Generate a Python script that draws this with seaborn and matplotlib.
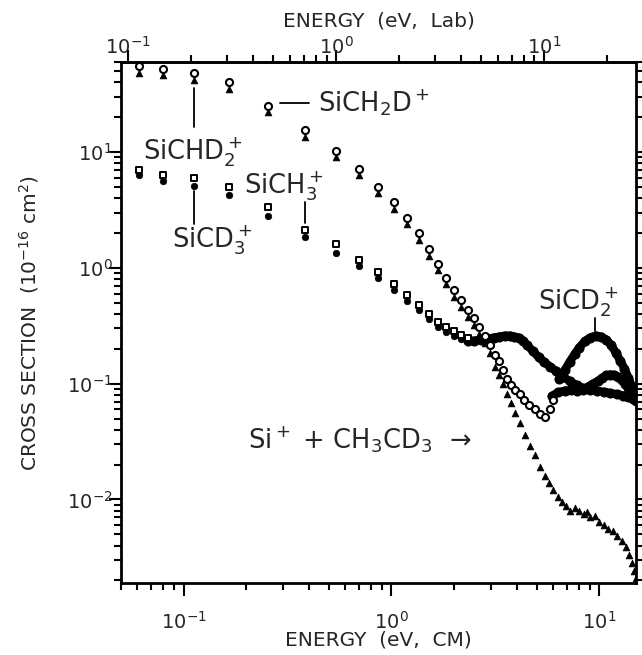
import matplotlib
matplotlib.use("Agg")
import matplotlib.pyplot as plt
import seaborn as sns

# ---------------- data ----------------
LAB_FACTOR = 61.0 / 33.0   # E(Lab) = E(CM) * (m_Si + m_C2H3D3) / m_C2H3D3

# SiCH2D+ (open circles)
sich2d_x = [0.061, 0.080, 0.112, 0.166, 0.255, 0.385, 0.538, 0.697, 0.86, 1.03,
            1.19, 1.35, 1.51, 1.67, 1.83, 2.00, 2.17, 2.34, 2.50, 2.64, 2.82,
            2.98, 3.16, 3.30, 3.45, 3.60, 3.77, 3.94, 4.13, 4.35, 4.6, 4.9,
            5.2, 5.5, 5.8, 6.0]
sich2d_y = [55, 52, 48, 40, 25, 15.5, 10.3, 7.2, 5.0, 3.7,
            2.7, 2.0, 1.45, 1.09, 0.82, 0.64, 0.53, 0.436, 0.367, 0.309, 0.26,
            0.215, 0.177, 0.158, 0.13, 0.11, 0.098, 0.088, 0.081, 0.072, 0.065, 0.06,
            0.055, 0.052, 0.06, 0.072]

# SiCHD2+ (filled triangles)
sichd2_x = [0.061, 0.080, 0.112, 0.166, 0.255, 0.385, 0.538, 0.697, 0.86, 1.03,
            1.19, 1.35, 1.51, 1.67, 1.83, 2.00, 2.17, 2.34, 2.50, 2.64, 2.82,
            2.98, 3.16, 3.30, 3.45, 3.60, 3.77, 3.94, 4.13, 4.4, 4.65, 4.9,
            5.17, 5.5, 5.75, 5.97, 6.3, 6.6, 6.9, 7.2, 7.6, 8.0, 8.4, 8.7, 9.0,
            9.5, 10.0, 10.5, 11.0, 11.6, 12.2, 12.9, 13.4, 13.9, 14.3, 14.7, 15.0]
sichd2_y = [48, 46, 42, 35, 22, 13.6, 9.0, 6.3, 4.4, 3.25,
            2.4, 1.75, 1.27, 0.95, 0.72, 0.56, 0.46, 0.38, 0.32, 0.27, 0.225,
            0.185, 0.14, 0.12, 0.10, 0.082, 0.068, 0.056, 0.046, 0.036, 0.029, 0.024,
            0.019, 0.016, 0.014, 0.012, 0.0105, 0.0095, 0.0088, 0.008, 0.0085, 0.008, 0.0075, 0.0078, 0.007,
            0.0072, 0.0064, 0.006, 0.0056, 0.0053, 0.0048, 0.0044, 0.0039, 0.0033, 0.0028, 0.0024, 0.0021]

# SiCH3+ (open squares) and SiCD3+ (filled circles)
methyl_x = [0.061, 0.080, 0.112, 0.166, 0.255, 0.385, 0.538, 0.697, 0.86, 1.03,
            1.19, 1.35, 1.51, 1.67, 1.83, 2.00, 2.17, 2.34]
sich3_y = [7.0, 6.3, 6.0, 5.0, 3.36, 2.13, 1.6, 1.18, 0.92, 0.73,
           0.58, 0.48, 0.40, 0.34, 0.31, 0.286, 0.265, 0.25]
sicd3_y = [6.4, 5.6, 5.1, 4.3, 2.83, 1.86, 1.35, 1.03, 0.82, 0.64,
           0.52, 0.43, 0.36, 0.31, 0.28, 0.26, 0.245, 0.235]

# dense high-energy band (continuation of the methyl channels)
band_x = [2.34, 2.5, 2.7, 2.9, 3.1, 3.3, 3.5, 3.7, 3.9, 4.1, 4.3, 4.5, 4.8, 5.1,
          5.4, 5.8, 6.2, 6.7, 7.2, 7.8, 8.3, 9.0, 9.7, 10.5, 11.3, 12.2, 13.0,
          13.8, 14.5, 15.0]
band_y = [0.235, 0.235, 0.24, 0.245, 0.25, 0.255, 0.26, 0.26, 0.255, 0.25, 0.235,
          0.215, 0.19, 0.17, 0.155, 0.14, 0.128, 0.115, 0.105, 0.097, 0.092, 0.089,
          0.087, 0.085, 0.083, 0.081, 0.079, 0.077, 0.074, 0.071]

# SiCD2+ (dense filled circles)
sicd2_x = [6.4, 6.8, 7.2, 7.6, 8.0, 8.5, 9.0, 9.6, 10.2, 10.8, 11.4, 12.0, 12.6,
           13.2, 13.8, 14.4, 15.0]
sicd2_y = [0.11, 0.13, 0.155, 0.18, 0.205, 0.232, 0.25, 0.26, 0.255, 0.24, 0.215,
           0.185, 0.158, 0.135, 0.112, 0.093, 0.078]

# middle dense curve (rise of the open-circle channel at high energy)
mid_x = [5.9, 6.3, 6.8, 7.3, 7.8, 8.3, 8.8, 9.3, 9.8, 10.3, 10.8, 11.3, 11.8,
         12.3, 12.8, 13.3, 13.8, 14.4, 15.0]
mid_y = [0.078, 0.084, 0.087, 0.088, 0.087, 0.088, 0.094, 0.1, 0.105, 0.112, 0.118,
         0.12, 0.119, 0.115, 0.108, 0.1, 0.092, 0.082, 0.072]

x_ticklabels = ["10$^{-1}$", "10$^{0}$", "10$^{1}$"]

# ---------------- styling ----------------
sns.set_style("ticks")
plt.rcParams["font.family"] = ["DejaVu Sans"]
plt.rcParams["mathtext.default"] = "regular"

W, H = 642, 655
L, R, T, B = 121, 636, 62, 583
fig = plt.figure(figsize=(W / 100, H / 100), dpi=100)
ax = fig.add_axes([L / W, 1 - B / H, (R - L) / W, (B - T) / H])

K = "black"
for xs, ys in [(band_x, band_y), (sicd2_x, sicd2_y), (mid_x, mid_y)]:
    sns.lineplot(x=xs, y=ys, ax=ax, color=K, linewidth=6, marker="o",
                 markersize=6.5, markeredgecolor=K, sort=False, estimator=None)

sns.scatterplot(x=sichd2_x, y=sichd2_y, ax=ax, marker="^", color=K,
                edgecolor=K, s=24, linewidth=0.5, zorder=3)
sns.scatterplot(x=methyl_x, y=sicd3_y, ax=ax, marker="o", color=K,
                edgecolor=K, s=22, linewidth=0.5, zorder=3)
sns.scatterplot(x=sich2d_x, y=sich2d_y, ax=ax, marker="o", color="white",
                edgecolor=K, s=26, linewidth=1.5, zorder=4)
sns.scatterplot(x=methyl_x, y=sich3_y, ax=ax, marker="s", color="white",
                edgecolor=K, s=24, linewidth=1.4, zorder=4)

ax.set_xscale("log")
ax.set_yscale("log")
ax.set_xlim(0.05, 15.0)
ax.set_ylim(0.0019, 60)

for s in ax.spines.values():
    s.set_linewidth(2)
    s.set_color(K)
    s.set_visible(True)

ax.tick_params(which="both", direction="out", color=K, width=1.5,
               left=True, right=True, bottom=True, top=False,
               labelright=False, labeltop=False)
ax.tick_params(which="major", length=9, labelsize=14)
ax.tick_params(which="minor", length=5)
ax.tick_params(axis="x", which="major", pad=11)
ax.tick_params(axis="y", which="major", pad=-3)
ax.set_xticks([0.1, 1, 10])
ax.set_xticklabels(x_ticklabels)

ax.set_xlabel("ENERGY  (eV,  CM)", fontsize=14.5)
ax.xaxis.set_label_coords(0.5, -0.092)
ax.set_ylabel("CROSS SECTION  (10$^{-16}$ cm$^{2}$)", fontsize=14.5)
ax.yaxis.set_label_coords(-0.155, 0.5)

secax = ax.secondary_xaxis("top", functions=(lambda e: e * LAB_FACTOR,
                                             lambda e: e / LAB_FACTOR))
secax.tick_params(which="both", direction="out", color=K, width=1.5)
secax.tick_params(which="major", length=9, labelsize=14, pad=-6)
secax.tick_params(which="minor", length=5)
secax.set_xticks([0.1, 1, 10])
secax.set_xticklabels(x_ticklabels)
secax.set_xlabel("ENERGY  (eV,  Lab)", fontsize=14.5)
secax.xaxis.set_label_coords(0.5, 1.068, transform=ax.transAxes)
secax.spines["top"].set_linewidth(2)

# ---------------- annotations ----------------
fs = 18.5
ax.text(0.064, 8.7, "SiCHD$_2^+$", fontsize=fs, va="baseline", ha="left")
ax.plot([0.112, 0.112], [36, 16.5], color=K, lw=1.3)

ax.plot([0.29, 0.40], [26.5, 26.5], color=K, lw=1.3)
ax.text(0.445, 22.5, "SiCH$_2$D$^+$", fontsize=fs, va="baseline", ha="left")

ax.text(0.196, 4.35, "SiCH$_3^+$", fontsize=fs, va="baseline", ha="left")
ax.plot([0.383, 0.383], [3.7, 2.45], color=K, lw=1.3)

ax.text(0.0875, 1.5, "SiCD$_3^+$", fontsize=fs, va="baseline", ha="left")
ax.plot([0.112, 0.112], [4.6, 2.4], color=K, lw=1.3)

ax.text(5.05, 0.44, "SiCD$_2^+$", fontsize=fs, va="baseline", ha="left")
ax.plot([9.5, 9.5], [0.37, 0.285], color=K, lw=1.3)

ax.text(0.205, 0.0275, "Si$^+$ + CH$_3$CD$_3$  \u2192", fontsize=fs,
        va="baseline", ha="left")

fig.savefig("out.png", dpi=100)
